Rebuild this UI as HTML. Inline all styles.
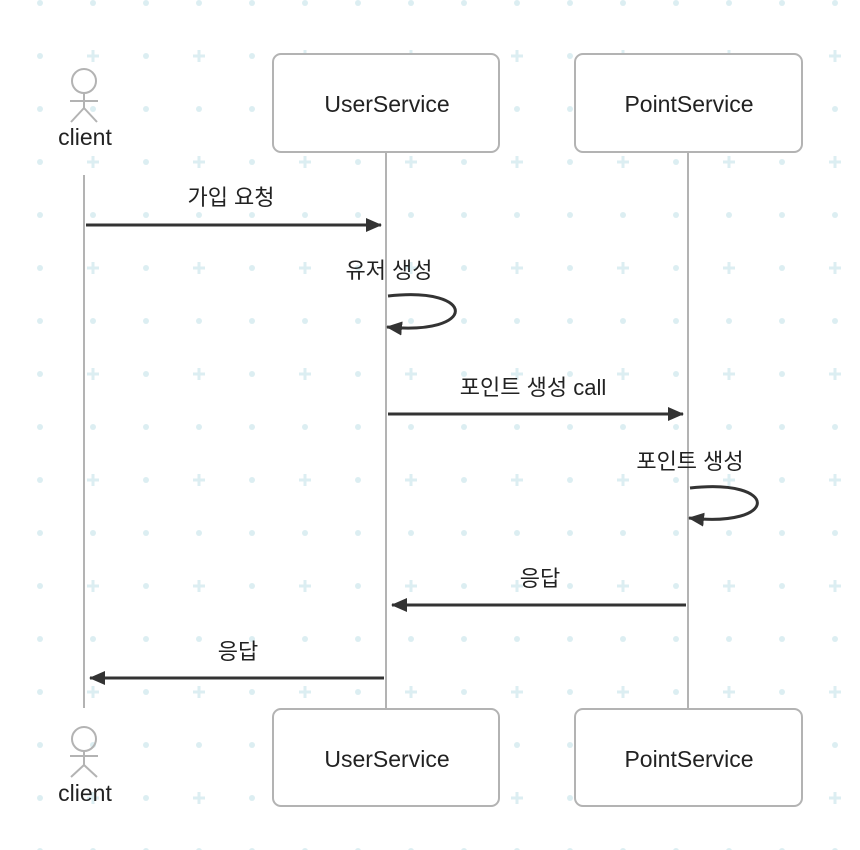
<!DOCTYPE html>
<html><head><meta charset="utf-8"><style>
html,body{margin:0;padding:0;background:#fff;}
svg{display:block;}
text{font-family:"Liberation Sans","Noto Sans CJK KR",sans-serif;fill:#222;}
</style></head><body>
<svg width="860" height="850" viewBox="0 0 860 850" xmlns="http://www.w3.org/2000/svg">
<defs>
<pattern id="g" x="14" y="-23" width="106" height="106" patternUnits="userSpaceOnUse">
<circle cx="26" cy="26" r="3" fill="#dceef2"/>
<circle cx="79" cy="26" r="3" fill="#dceef2"/>
<circle cx="26" cy="79" r="3" fill="#dceef2"/>
<rect x="73" y="77.5" width="12" height="3" fill="#dceef2"/>
<rect x="77.5" y="73" width="3" height="12" fill="#dceef2"/>
</pattern>
<marker id="a" markerWidth="16" markerHeight="14" refX="15" refY="7" orient="auto" markerUnits="userSpaceOnUse">
<path d="M0,0 L16,7 L0,14 Z" fill="#333"/>
</marker>
</defs>
<rect width="860" height="850" fill="url(#g)"/>
<g stroke="#b3b3b3" stroke-width="2" fill="none">
<line x1="84" y1="175" x2="84" y2="708"/>
<line x1="386" y1="152" x2="386" y2="708"/>
<line x1="688" y1="152" x2="688" y2="708"/>
<circle cx="84" cy="81" r="12"/>
<line x1="84" y1="93" x2="84" y2="108"/><line x1="70" y1="101" x2="98" y2="101"/>
<line x1="84" y1="108" x2="71" y2="122"/><line x1="84" y1="108" x2="97" y2="122"/>
<circle cx="84" cy="739" r="12"/>
<line x1="84" y1="751" x2="84" y2="765"/><line x1="70" y1="756" x2="98" y2="756"/>
<line x1="84" y1="765" x2="71" y2="777"/><line x1="84" y1="765" x2="97" y2="777"/>
</g>
<g stroke="#b3b3b3" stroke-width="2" fill="#fff">
<rect x="273" y="54" width="226" height="98" rx="8"/>
<rect x="575" y="54" width="227" height="98" rx="8"/>
<rect x="273" y="709" width="226" height="97" rx="8"/>
<rect x="575" y="709" width="227" height="97" rx="8"/>
</g>
<g font-size="23" text-anchor="middle">
<text x="85" y="145">client</text>
<text x="85" y="801">client</text>
<text x="387" y="112">UserService</text>
<text x="689" y="112">PointService</text>
<text x="387" y="767">UserService</text>
<text x="689" y="767">PointService</text>
</g>
<g stroke="#333" stroke-width="3" fill="none">
<line x1="86" y1="225" x2="381" y2="225" marker-end="url(#a)"/>
<path d="M388,296 C478,286 478,336 387,327" marker-end="url(#a)"/>
<line x1="388" y1="414" x2="683" y2="414" marker-end="url(#a)"/>
<path d="M690,488 C780,478 780,528 689,518" marker-end="url(#a)"/>
<line x1="686" y1="605" x2="392" y2="605" marker-end="url(#a)"/>
<line x1="384" y1="678" x2="90" y2="678" marker-end="url(#a)"/>
</g>
<g font-size="22" text-anchor="middle">
<text x="231" y="205">가입 요청</text>
<text x="389" y="278">유저 생성</text>
<text x="533" y="395">포인트 생성 call</text>
<text x="690" y="469">포인트 생성</text>
<text x="540" y="586">응답</text>
<text x="238" y="659">응답</text>
</g>
</svg>
</body></html>
